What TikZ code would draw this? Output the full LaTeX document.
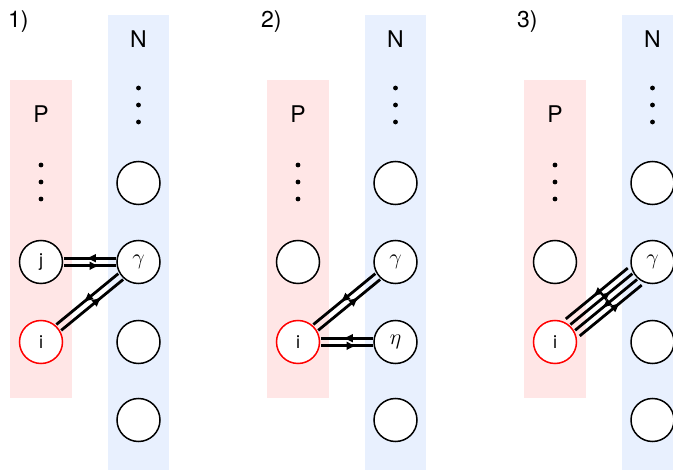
\RequirePackage{fix-cm}
\documentclass[tikz,border=0pt]{standalone}
\usepackage{fontspec}
\setmainfont{TeX Gyre Heros}
\usetikzlibrary{arrows.meta, calc, decorations.markings}

\definecolor{pfill}{RGB}{255,230,230}
\definecolor{nfill}{RGB}{232,240,254}

% one line of a hop, shifted sideways from the centre line
\newcommand{\hop}[4]{%
    \draw[link, #4] ($(#1)!#3!90:(#2)$) -- ($(#2)!#3!-90:(#1)$);
}

\begin{document}
\begin{tikzpicture}[
    x=1pt, y=-1pt,
    lbl/.style={font=\fontsize{23}{27}\selectfont},
    site/.style={circle, draw, line width=1.5pt, fill=white, minimum size=43pt, inner sep=0pt, font=\fontsize{18}{21}\selectfont},
    greek/.style={site, font=\fontsize{22}{26}\selectfont},
    hole/.style={site, draw=red},
    link/.style={line width=2.8pt, shorten >=23pt, shorten <=23pt},
    toN/.style={postaction={decorate, decoration={markings, mark=at position 0.6 with {\arrow{Latex[length=10pt,width=9pt]}}}}},
    toP/.style={postaction={decorate, decoration={markings, mark=at position 0.46 with {\arrowreversed{Latex[length=10pt,width=9pt]}}}}}
]
    \useasboundingbox (0, 0) rectangle (673, 470);

    % Columns
    \foreach \k/\ox/\tx in {1/0/8, 2/257/261, 3/514/517} {
        \fill[pfill] (\ox+10, 80) rectangle (\ox+72, 398);
        \fill[nfill] (\ox+108, 15) rectangle (\ox+169, 470);
        \node[lbl, anchor=west, inner sep=0pt] (tag\k) at (\tx, 22) {\k)};
        \node[lbl] (P\k) at (\ox+41, 114) {P};
        \node[lbl] (N\k) at (\ox+138.5, 39) {N};
        \foreach \y in {165, 182, 199} {
            \fill (\ox+41, \y) circle (2.4);
        }
        \foreach \y in {88, 105, 122} {
            \fill (\ox+138.5, \y) circle (2.4);
        }
        \node[site] (n\k-1) at (\ox+138.5, 183) {};
        \node[site] (n\k-4) at (\ox+138.5, 420) {};
    }

    % Sites
    \node[site] (j1) at (41, 262) {j};
    \node[hole] (i1) at (41, 342) {i};
    \node[greek] (g1) at (138.5, 262) {$\gamma$};
    \node[site] (n1-3) at (138.5, 342) {};

    \node[site] (p2-2) at (298, 262) {};
    \node[hole] (i2) at (298, 342) {i};
    \node[greek] (g2) at (395.5, 262) {$\gamma$};
    \node[greek] (e2) at (395.5, 342) {$\eta$};

    \node[site] (p3-2) at (555, 262) {};
    \node[hole] (i3) at (555, 342) {i};
    \node[greek] (g3) at (652.5, 262) {$\gamma$};
    \node[site] (n3-3) at (652.5, 342) {};

    % Hops
    \hop{j1}{g1}{3.8pt}{toP}
    \hop{j1}{g1}{-3.8pt}{toN}
    \hop{i1}{g1}{3.8pt}{toP}
    \hop{i1}{g1}{-3.8pt}{toN}

    \hop{i2}{g2}{3.8pt}{toP}
    \hop{i2}{g2}{-3.8pt}{toN}
    \hop{i2}{e2}{3.8pt}{toP}
    \hop{i2}{e2}{-3.8pt}{toN}

    \hop{i3}{g3}{11pt}{toP}
    \hop{i3}{g3}{3.7pt}{toN}
    \hop{i3}{g3}{-3.7pt}{toP}
    \hop{i3}{g3}{-11pt}{toN}
\end{tikzpicture}
\end{document}
